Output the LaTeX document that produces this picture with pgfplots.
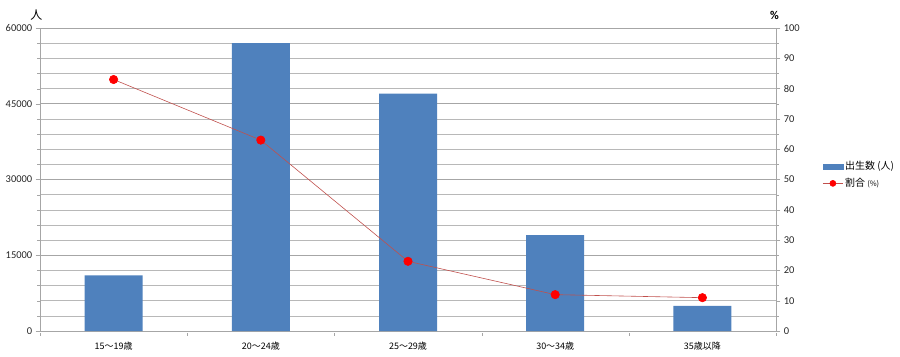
\documentclass[border=0pt]{standalone}
\usepackage{fontspec}
\setmainfont{Carlito}
\newfontfamily\jp{Noto Sans CJK JP}
\usepackage{pgfplots}
\pgfplotsset{compat=1.18}
\definecolor{barblue}{HTML}{4F81BD}
\definecolor{linered}{HTML}{C0504D}
\definecolor{gridgray}{HTML}{A6A6A6}
\begin{document}
\begin{tikzpicture}
\useasboundingbox (-40bp,-26bp) rectangle (860bp,331bp);
\begin{axis}[
  at={(0,0)}, anchor=south west,
  scale only axis, width=736bp, height=303bp,
  xmin=-0.5, xmax=4.5, ymin=0, ymax=60000,
  xtick={0,1,2,3,4},
  xticklabels={{\jp 15〜19歳},{\jp 20〜24歳},{\jp 25〜29歳},{\jp 30〜34歳},{\jp 35歳以降}},
  major x tick style={draw=none},
  minor xtick={-0.5,0.5,1.5,2.5,3.5,4.5},
  minor x tick style={gridgray, yshift=-2bp},
  xticklabel style={font=\fontsize{9}{10}\selectfont, yshift=-3bp},
  ytick={0,15000,30000,45000,60000},
  minor ytick={3000,6000,9000,12000,18000,21000,24000,27000,33000,36000,39000,42000,48000,51000,54000,57000},
  ymajorgrids, yminorgrids,
  major grid style={gridgray, line width=0.6pt},
  minor grid style={gridgray!80, line width=0.5pt},
  axis x line*=bottom, axis y line*=left,
  axis line style={gridgray},
  y axis line style={-},
  x axis line style={-},
  tick style={gridgray},
  ytick align=outside, tick pos=left,
  yticklabel style={font=\fontsize{10.5}{12}\selectfont, color=black!85},
  /pgf/number format/1000 sep={},
  /pgf/number format/assume math mode=true,
  scaled y ticks=false,
  ybar, bar width=58bp,
  clip=false,
]
\addplot[fill=barblue, draw=none] coordinates {(0,11000) (1,57000) (2,47000) (3,19000) (4,5000)};
\node[anchor=south] at (rel axis cs:-0.005,1.015) {\jp\fontsize{12}{13}\selectfont 人};
\end{axis}
\begin{axis}[
  at={(0,0)}, anchor=south west,
  scale only axis, width=736bp, height=303bp,
  xmin=-0.5, xmax=4.5, ymin=0, ymax=100,
  axis x line=none, axis y line*=right,
  axis line style={gridgray, -},
  ytick={0,10,...,100},
  minor ytick={5,15,...,95},
  ytick align=outside,
  tick style={gridgray},
  minor tick length=0.6ex,
  yticklabel style={font=\fontsize{10.5}{12}\selectfont, color=black!85},
  /pgf/number format/assume math mode=true,
  clip=false,
  legend style={draw=none, fill=none, at={(1.063,0.515)}, anchor=west, font=\jp\fontsize{10}{12}\selectfont, row sep=3pt, inner sep=0pt},
  legend cell align=left,
]
\addlegendimage{legend image code/.code={\fill[barblue] (0bp,-2.5bp) rectangle (20bp,2.5bp);}}
\addlegendentry{出生数 (人)}
\addplot[linered, line width=0.6pt, mark=*, mark size=4.2bp, mark options={fill=red, draw=red},
  legend image code/.code={\draw[linered, line width=0.6pt] (0bp,0bp) -- (20bp,0bp); \fill[red] (10bp,0bp) circle (3bp);}] coordinates {(0,83) (1,63) (2,23) (3,12) (4,11)};
\addlegendentry{割合 {\fontsize{7.5}{9}\selectfont(\%)}}
\node[anchor=south] at (rel axis cs:0.998,1.015) {\fontsize{12}{13}\selectfont\bfseries \%};
\end{axis}
\end{tikzpicture}
\end{document}
